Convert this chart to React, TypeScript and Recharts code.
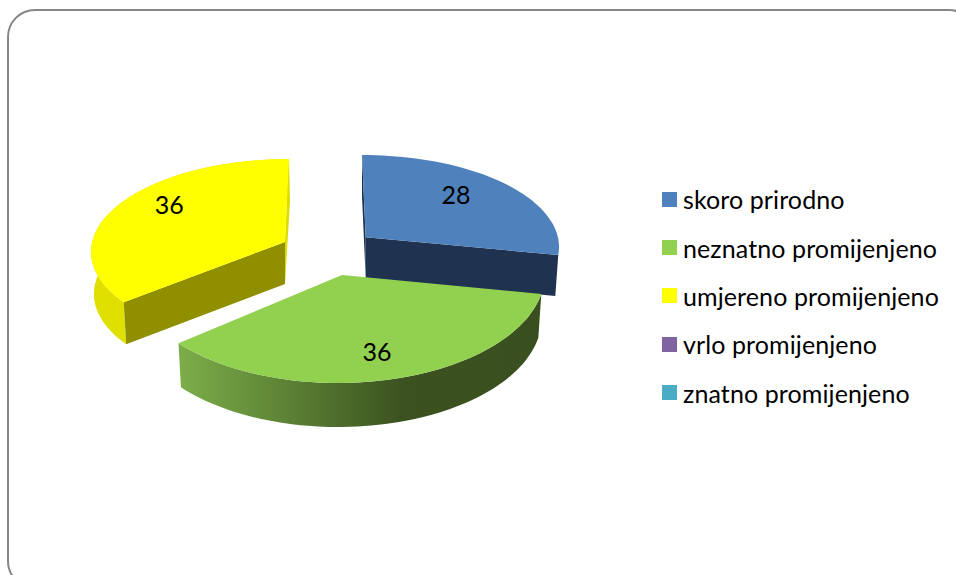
import { Legend, Pie, PieChart } from "recharts";

const categories = ["skoro prirodno", "neznatno promijenjeno", "umjereno promijenjeno", "vrlo promijenjeno", "znatno promijenjeno"];
const values = [28, 36, 36, 0, 0];
const colors = ["#4f81bd", "#92d050", "#ffff00", "#8064a2", "#4bacc6"];

const data = categories.map((name, i) => ({ name, value: values[i], fill: colors[i] }));

const CHART_W = 956;
const CHART_H = 575;
const PIE_CX = 330;
const PIE_CY = 250;
const PIE_R = 200;
const BASE_SCALE = 0.985;
const FONT = "Lato, Carlito, sans-serif";

// how each slice sits in the fake 3d view: exploded offset, squash, angle warp from the perspective
const views = [
    { dx: 32, dy: -3, kx: 0.985, ky: 0.46, skew: 0, depth: 41, from: 0, to: -5.8, ax: 35.7, ay: -12.7, lx: 0.62, ly: 0.9, side: "#1f3350", front: "#1f3350", wall: "" },
    { dx: 8, dy: 23.5, kx: 1.035, ky: 0.5475, skew: 0, depth: 44, from: 0, to: 0, ax: 12, ay: 25, lx: 0.76, ly: 0.73, side: "", front: "", wall: "url(#greenWall)" },
    { dx: -45, dy: 0, kx: 0.97, ky: 0.455, skew: 0.044, depth: 42, from: 4.6, to: 0, ax: -45, ay: -8, lx: 0.66, ly: 1.19, side: "#dcdc00", front: "#8f8f00", wall: "#e0e000" },
];

type View = (typeof views)[number];

function toClock(angle: number) {
    return 90 - angle;
}

function pointAt(v: View, cx: number, cy: number, r: number, clock: number, scale = 1, drop = 0) {
    const a = (clock * Math.PI) / 180;
    const up = v.ky * r * Math.cos(a);
    return {
        x: cx + v.dx + v.kx * r * scale * Math.sin(a) + v.skew * up,
        y: cy + v.dy - up + drop,
    };
}

function arcPoints(v: View, cx: number, cy: number, r: number, from: number, to: number, scale = 1, drop = 0) {
    const out: string[] = [];
    const steps = Math.max(2, Math.ceil(Math.abs(to - from) / 2));
    for (let i = 0; i <= steps; i++) {
        const p = pointAt(v, cx, cy, r, from + ((to - from) * i) / steps, scale, drop);
        out.push(`${p.x.toFixed(1)} ${p.y.toFixed(1)}`);
    }
    return out;
}

function Slice3D(props: any) {
    const { cx, cy, outerRadius, startAngle, endAngle, index, fill } = props;
    const v = views[index];
    if (!v || startAngle === endAngle) return null;

    const from = toClock(startAngle) + v.from;
    const to = toClock(endAngle) + v.to;
    const apex = { x: cx + v.ax, y: cy + v.ay };
    const top = arcPoints(v, cx, cy, outerRadius, from, to);
    const bottom = arcPoints(v, cx, cy, outerRadius, to, from, BASE_SCALE, v.depth);
    const first = pointAt(v, cx, cy, outerRadius, from);
    const last = pointAt(v, cx, cy, outerRadius, to);
    const firstLow = pointAt(v, cx, cy, outerRadius, from, BASE_SCALE, v.depth);
    const lastLow = pointAt(v, cx, cy, outerRadius, to, BASE_SCALE, v.depth);
    const isBlue = index === 0;
    const frontEdge = isBlue ? [last, lastLow] : [first, firstLow];
    const sideEdge = isBlue ? [first, firstLow] : [last, lastLow];

    return (
        <g>
            <defs>
                <linearGradient id="greenWall" x1="0" y1="0" x2="1" y2="0">
                    <stop offset="0" stopColor="#7cae49" />
                    <stop offset="0.62" stopColor="#3b5220" />
                    <stop offset="1" stopColor="#3a4f1f" />
                </linearGradient>
            </defs>
            {v.wall && <path d={`M${top.join("L")}L${bottom.join("L")}Z`} fill={v.wall} />}
            {v.side && (
                <path
                    d={`M${apex.x} ${apex.y}L${sideEdge[0].x} ${sideEdge[0].y}L${sideEdge[1].x + (isBlue ? 0 : 1)} ${sideEdge[1].y}L${apex.x} ${apex.y + v.depth}Z`}
                    fill={v.side}
                />
            )}
            {v.front && (
                <path
                    d={`M${apex.x} ${apex.y}L${frontEdge[0].x} ${frontEdge[0].y}L${frontEdge[1].x} ${frontEdge[1].y}L${apex.x} ${apex.y + v.depth}Z`}
                    fill={v.front}
                />
            )}
            <path d={`M${apex.x} ${apex.y}L${top.join("L")}Z`} fill={fill} />
        </g>
    );
}

function sliceLabel(props: any) {
    const { cx, cy, index, value, startAngle, endAngle } = props;
    const v = views[index];
    if (!v || !value) return null;
    const mid = ((toClock(startAngle) + toClock(endAngle)) / 2) * (Math.PI / 180);
    const x = cx + v.dx + v.lx * v.kx * PIE_R * Math.sin(mid);
    const y = cy + v.dy - v.ly * v.ky * PIE_R * Math.cos(mid);
    return (
        <text x={x} y={y} textAnchor="middle" dominantBaseline="central" fontFamily={FONT} fontSize={25} fill="#000">
            {value}
        </text>
    );
}

function LegendList({ payload }: any) {
    return (
        <div>
            {(payload ?? []).map((item: any) => (
                <div key={item.value} style={{ height: 48.4, display: "flex", alignItems: "center", whiteSpace: "nowrap" }}>
                    <span style={{ width: 15, height: 15, marginRight: 6, background: item.color, display: "inline-block" }} />
                    <span style={{ fontFamily: FONT, fontSize: 25, color: "#000", letterSpacing: 0.1 }}>{item.value}</span>
                </div>
            ))}
        </div>
    );
}

export default function App() {
    return (
        <div style={{ position: "fixed", left: 0, top: 0, width: CHART_W, height: CHART_H, overflow: "hidden", background: "#fff" }}>
            <div
                style={{
                    position: "absolute",
                    left: 7,
                    top: 9,
                    width: 966,
                    height: 576,
                    border: "2px solid #868686",
                    borderRadius: 28,
                }}
            />
            <PieChart width={CHART_W} height={CHART_H} margin={{ top: 0, right: 0, bottom: 0, left: 0 }}>
                <Pie
                    data={data}
                    dataKey="value"
                    nameKey="name"
                    cx={PIE_CX}
                    cy={PIE_CY}
                    outerRadius={PIE_R}
                    startAngle={90}
                    endAngle={-270}
                    stroke="none"
                    shape={Slice3D}
                    label={sliceLabel}
                    labelLine={false}
                    isAnimationActive={false}
                />
                <Legend
                    layout="vertical"
                    content={<LegendList />}
                    itemSorter={null}
                    wrapperStyle={{ position: "absolute", left: 662, top: 175, width: 290, bottom: "auto", right: "auto" }}
                />
            </PieChart>
        </div>
    );
}
